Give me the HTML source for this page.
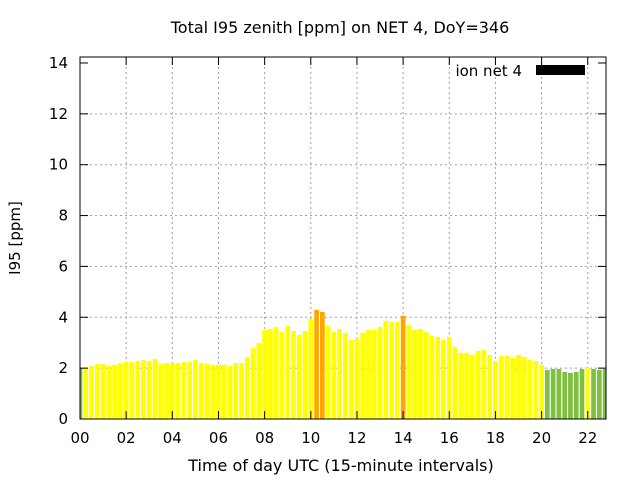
<!DOCTYPE html>
<html><head><meta charset="utf-8"><style>
body{margin:0;background:#fff}
svg{display:block;font-family:"DejaVu Sans","Liberation Sans",sans-serif}
</style></head><body>
<svg id="chart" width="640" height="480" viewBox="0 0 640 480" xmlns="http://www.w3.org/2000/svg">
<text x="340" y="33" font-size="16" text-anchor="middle">Total I95 zenith [ppm] on NET 4, DoY=346</text>
<g id="grid"></g>
<g id="bars"></g>
<g id="axes"></g>
<text x="341" y="471" font-size="16" text-anchor="middle">Time of day UTC (15-minute intervals)</text>
<text x="0" y="0" font-size="15" text-anchor="middle" transform="translate(20,238) rotate(-90)">I95 [ppm]</text>
<g>
<text x="522" y="76" font-size="15" text-anchor="end">ion net 4</text>
<rect x="536" y="65" width="49" height="10" fill="#000"/>
</g>
</svg>
<script>
const values = [1.99,2.01,2.09,2.17,2.17,2.09,2.13,2.20,2.24,2.24,2.28,2.32,2.28,2.36,2.17,2.20,2.20,2.20,2.24,2.24,2.32,2.20,2.17,2.13,2.13,2.13,2.09,2.20,2.20,2.44,
2.80,2.99,3.50,3.54,3.62,3.43,3.66,3.46,3.31,3.46,3.94,4.29,4.21,3.66,3.43,3.54,3.39,3.11,3.15,3.39,3.50,3.50,3.62,3.86,3.82,3.82,4.06,3.70,3.50,3.54,
3.43,3.27,3.23,3.11,3.23,2.83,2.60,2.60,2.52,2.68,2.72,2.52,2.28,2.48,2.48,2.40,2.52,2.44,2.32,2.28,2.13,1.93,1.97,1.97,1.85,1.81,1.85,1.97,2.01,1.97,1.93,1.97];
const yTicks = [0,2,4,6,8,10,12,14];
const xTickHours = [0,2,4,6,8,10,12,14,16,18,20,22];
const xTickLabels = ["00","02","04","06","08","10","12","14","16","18","20","22"];
const L=80,R=606,T=57,B=419;
const yScale=v=>B-v*25.43;
const xScale=i=>L+i*5.77;
const NS="http://www.w3.org/2000/svg";
function mk(tag,attrs,parent){const e=document.createElementNS(NS,tag);for(const k in attrs)e.setAttribute(k,attrs[k]);parent.appendChild(e);return e;}
const grid=document.getElementById('grid'),bars=document.getElementById('bars'),axes=document.getElementById('axes');
yTicks.forEach(v=>{const y=yScale(v);
 if(v>0&&v<14){const g=mk('line',{x1:L,x2:R,y1:y,y2:y,stroke:'#a0a0a0','stroke-dasharray':'2,3'},grid);
 
 }
 const t=mk('text',{x:L-12,y:y+5,'font-size':15,'text-anchor':'end'},axes);t.textContent=v;
 
 
 mk('line',{x1:L,x2:L+8,y1:y,y2:y,stroke:'#000'},axes);mk('line',{x1:R,x2:R-8,y1:y,y2:y,stroke:'#000'},axes);
});
xTickHours.forEach((h,k)=>{const x=xScale(h*4);
 if(h>0){const g=mk('line',{x1:x,x2:x,y1:T,y2:B,stroke:'#a0a0a0','stroke-dasharray':'2,3'},grid);
 
 }
 const t=mk('text',{x:x,y:443,'font-size':15,'text-anchor':'middle'},axes);t.textContent=xTickLabels[k];
 
 
 mk('line',{x1:x,x2:x,y1:B,y2:B-8,stroke:'#000'},axes);mk('line',{x1:x,x2:x,y1:T,y2:T+8,stroke:'#000'},axes);
});
const cp=mk('clipPath',{id:'pc'},bars);mk('rect',{x:L,y:T,width:R-L,height:B-T},cp);
bars.setAttribute('clip-path','url(#pc)');
values.forEach((v,i)=>{const x=xScale(i),y=yScale(v);
 const col=v>=4?'#ffa500':(v<2?'#80c040':'#ffff00');
 const r=mk('rect',{x:x-2.35,y:y,width:4.7,height:B-y,fill:col},bars);
 
 
});
const f=mk('rect',{x:L,y:T,width:R-L,height:B-T,fill:'none',stroke:'#000','stroke-width':1},axes);


</script>
</body></html>
